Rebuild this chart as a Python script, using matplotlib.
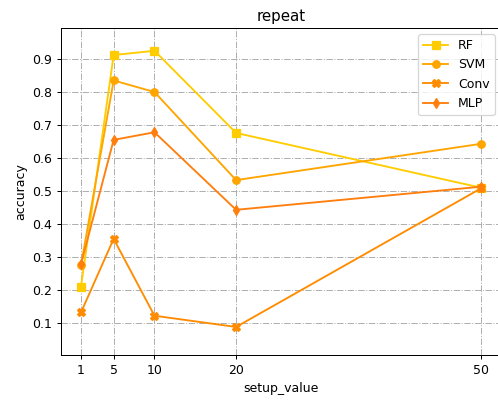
import matplotlib
matplotlib.use("Agg")
import matplotlib.pyplot as plt

setup_values = [1, 5, 10, 20, 50]
rf = [0.21, 0.912, 0.925, 0.676, 0.51]
svm = [0.275, 0.835, 0.800, 0.533, 0.643]
conv = [0.132, 0.355, 0.122, 0.088, 0.508]
mlp = [0.278, 0.655, 0.678, 0.443, 0.513]
yticks = [0.1, 0.2, 0.3, 0.4, 0.5, 0.6, 0.7, 0.8, 0.9]

DPI = 90
fig = plt.figure(figsize=(498 / DPI, 400 / DPI), dpi=DPI)
ax = fig.add_axes([61 / 498, 45 / 400, 440 / 498, 327 / 400])

ax.plot(setup_values, rf, marker='s', color='#FFCC00', label='RF')
ax.plot(setup_values, svm, marker='o', color='#FFA500', label='SVM')
ax.plot(setup_values, conv, marker='X', color='#FF8C00', label='Conv')
ax.plot(setup_values, mlp, marker='d', color='#FF7F0E', label='MLP')

ax.set_xticks(setup_values)
ax.set_yticks(yticks)
ax.set_xlim(-1.45, 52.45)
ax.set_ylim(0.003, 0.994)
ax.grid(True, linestyle='-.', color='#b0b0b0')
ax.set_xlabel('setup_value')
ax.set_ylabel('accuracy')
ax.set_title('repeat')
ax.legend(loc='upper right')

fig.savefig('out.png', dpi=DPI)
